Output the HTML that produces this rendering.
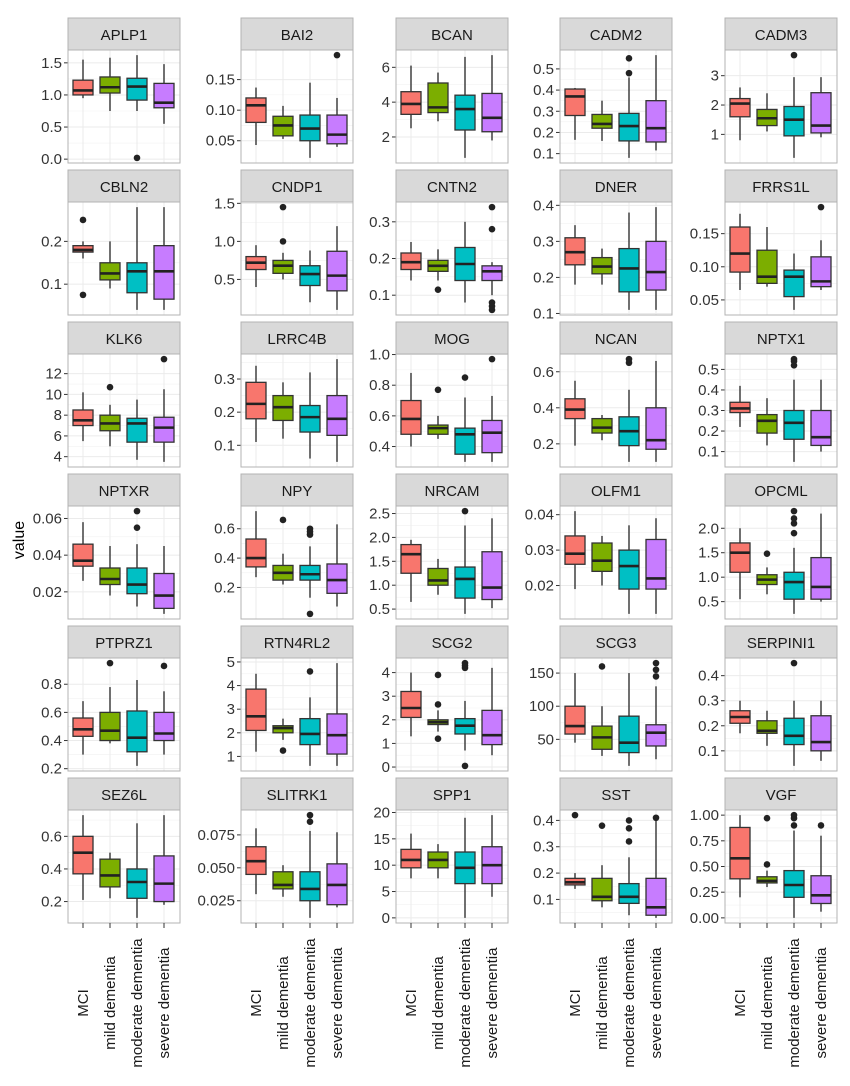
<!DOCTYPE html>
<html><head><meta charset="utf-8"><style>
html,body{margin:0;padding:0;background:#fff;}
svg{display:block;font-family:"Liberation Sans",Arial,sans-serif;}
</style></head><body>
<svg id="s" width="850" height="1086" xmlns="http://www.w3.org/2000/svg"></svg>
<script>
var P=[
["APLP1",[0,0.5,1.0,1.5],["0.0","0.5","1.0","1.5"],[[0.95,1.0,1.07,1.23,1.55,[]],[0.75,1.03,1.12,1.28,1.58,[]],[0.75,0.92,1.13,1.26,1.62,[0.02]],[0.55,0.8,0.88,1.18,1.48,[]]]],
["BAI2",[0.05,0.1,0.15],["0.05","0.10","0.15"],[[0.043,0.08,0.108,0.12,0.137,[]],[0.053,0.058,0.075,0.09,0.107,[]],[0.022,0.05,0.07,0.092,0.145,[]],[0.04,0.045,0.06,0.092,0.12,[0.19]]]],
["BCAN",[2,4,6],["2","4","6"],[[2.5,3.3,3.9,4.6,6.1,[]],[2.9,3.4,3.7,5.1,5.7,[]],[0.8,2.4,3.6,4.4,6.6,[]],[1.8,2.3,3.1,4.5,6.7,[]]]],
["CADM2",[0.1,0.2,0.3,0.4,0.5],["0.1","0.2","0.3","0.4","0.5"],[[0.165,0.28,0.37,0.405,0.41,[]],[0.16,0.22,0.24,0.285,0.35,[]],[0.08,0.16,0.23,0.29,0.46,[0.48,0.55]],[0.115,0.155,0.22,0.35,0.565,[]]]],
["CADM3",[1,2,3],["1","2","3"],[[0.8,1.6,2.05,2.22,2.6,[]],[1.1,1.3,1.55,1.85,2.4,[]],[0.2,0.95,1.5,1.95,2.95,[3.7]],[0.9,1.05,1.3,2.42,2.95,[]]]],
["CBLN2",[0.1,0.2],["0.1","0.2"],[[0.16,0.175,0.18,0.19,0.2,[0.25,0.075]],[0.09,0.11,0.125,0.15,0.2,[]],[0.04,0.08,0.13,0.15,0.28,[]],[0.04,0.065,0.13,0.19,0.28,[]]]],
["CNDP1",[0.5,1.0,1.5],["0.5","1.0","1.5"],[[0.4,0.63,0.72,0.8,0.95,[]],[0.5,0.58,0.68,0.75,0.85,[1.0,1.45]],[0.2,0.42,0.57,0.68,0.88,[]],[0.1,0.35,0.55,0.87,1.2,[]]]],
["CNTN2",[0.1,0.2,0.3],["0.1","0.2","0.3"],[[0.14,0.17,0.19,0.215,0.245,[]],[0.14,0.165,0.18,0.195,0.225,[0.115]],[0.08,0.14,0.185,0.23,0.3,[]],[0.1,0.14,0.165,0.18,0.19,[0.34,0.28,0.08,0.07,0.06]]]],
["DNER",[0.1,0.2,0.3,0.4],["0.1","0.2","0.3","0.4"],[[0.18,0.235,0.27,0.31,0.345,[]],[0.18,0.21,0.23,0.255,0.28,[]],[0.11,0.16,0.225,0.28,0.38,[]],[0.11,0.165,0.215,0.3,0.395,[]]]],
["FRRS1L",[0.05,0.1,0.15],["0.05","0.10","0.15"],[[0.065,0.092,0.12,0.16,0.18,[]],[0.07,0.075,0.085,0.125,0.16,[]],[0.035,0.055,0.085,0.095,0.12,[]],[0.065,0.07,0.078,0.115,0.14,[0.19]]]],
["KLK6",[4,6,8,10,12],["4","6","8","10","12"],[[5.5,7,7.5,8.5,10.2,[]],[5,6.5,7.2,8,9,[10.7]],[3.7,5.4,7.2,7.7,9.5,[]],[3.5,5.4,6.8,7.8,10.5,[13.4]]]],
["LRRC4B",[0.1,0.2,0.3,0.4],["0.1","0.2","0.3","0.4"],[[0.11,0.18,0.225,0.29,0.34,[]],[0.12,0.175,0.215,0.25,0.29,[]],[0.06,0.14,0.185,0.22,0.32,[]],[0.05,0.13,0.18,0.25,0.36,[]]]],
["MOG",[0.4,0.6,0.8,1.0],["0.4","0.6","0.8","1.0"],[[0.4,0.48,0.58,0.7,0.88,[]],[0.45,0.48,0.52,0.54,0.6,[0.77]],[0.3,0.35,0.48,0.52,0.72,[0.85]],[0.3,0.36,0.49,0.57,0.73,[0.97]]]],
["NCAN",[0.2,0.4,0.6],["0.2","0.4","0.6"],[[0.19,0.34,0.39,0.45,0.55,[]],[0.22,0.26,0.29,0.34,0.36,[]],[0.1,0.19,0.27,0.35,0.5,[0.65,0.67]],[0.1,0.17,0.22,0.4,0.66,[]]]],
["NPTX1",[0.1,0.2,0.3,0.4,0.5],["0.1","0.2","0.3","0.4","0.5"],[[0.22,0.29,0.31,0.34,0.42,[]],[0.13,0.19,0.25,0.28,0.36,[]],[0.05,0.16,0.24,0.3,0.45,[0.52,0.54,0.55]],[0.1,0.13,0.17,0.3,0.45,[]]]],
["NPTXR",[0.02,0.04,0.06],["0.02","0.04","0.06"],[[0.026,0.034,0.037,0.046,0.058,[]],[0.018,0.024,0.027,0.033,0.045,[]],[0.012,0.019,0.024,0.033,0.046,[0.055,0.064]],[0.008,0.011,0.018,0.03,0.045,[]]]],
["NPY",[0.2,0.4,0.6],["0.2","0.4","0.6"],[[0.27,0.34,0.4,0.53,0.72,[]],[0.22,0.25,0.3,0.35,0.43,[0.66]],[0.13,0.25,0.29,0.35,0.48,[0.56,0.58,0.6,0.02]],[0.07,0.16,0.25,0.36,0.63,[]]]],
["NRCAM",[0.5,1.0,1.5,2.0,2.5],["0.5","1.0","1.5","2.0","2.5"],[[0.65,1.25,1.65,1.85,1.95,[]],[0.8,1.0,1.1,1.35,1.55,[]],[0.4,0.73,1.13,1.38,2.25,[2.55]],[0.52,0.7,0.95,1.7,2.4,[]]]],
["OLFM1",[0.02,0.03,0.04],["0.02","0.03","0.04"],[[0.019,0.026,0.029,0.034,0.041,[]],[0.02,0.024,0.027,0.032,0.034,[]],[0.012,0.019,0.0255,0.03,0.037,[]],[0.012,0.019,0.022,0.033,0.039,[]]]],
["OPCML",[0.5,1.0,1.5,2.0],["0.5","1.0","1.5","2.0"],[[0.55,1.1,1.5,1.7,2.0,[]],[0.65,0.85,0.95,1.05,1.2,[1.48]],[0.25,0.55,0.9,1.1,1.6,[1.9,2.1,2.2,2.35]],[0.5,0.55,0.8,1.4,2.3,[]]]],
["PTPRZ1",[0.2,0.4,0.6,0.8],["0.2","0.4","0.6","0.8"],[[0.3,0.43,0.48,0.56,0.68,[]],[0.38,0.4,0.47,0.6,0.78,[0.95]],[0.22,0.32,0.42,0.61,0.83,[]],[0.3,0.4,0.45,0.6,0.75,[0.93]]]],
["RTN4RL2",[1,2,3,4,5],["1","2","3","4","5"],[[1.2,2.1,2.7,3.85,4.5,[]],[1.7,2,2.2,2.3,2.6,[1.25]],[0.6,1.5,1.95,2.6,3.5,[4.6]],[0.6,1.1,1.9,2.8,4.95,[]]]],
["SCG2",[0,1,2,3,4],["0","1","2","3","4"],[[1.3,2.1,2.5,3.2,4.0,[]],[1.5,1.8,1.9,2.0,2.4,[1.2,2.65,3.9]],[0.7,1.4,1.75,2.05,2.8,[4.2,4.3,4.4,0.05]],[0.5,0.95,1.35,2.4,4.2,[]]]],
["SCG3",[0,50,100,150],["0","50","100","150"],[[45,58,70,100,150,[]],[25,35,53,70,100,[160]],[10,30,45,85,150,[]],[20,40,60,72,130,[145,155,165]]]],
["SERPINI1",[0.1,0.2,0.3,0.4],["0.1","0.2","0.3","0.4"],[[0.17,0.21,0.235,0.26,0.3,[]],[0.12,0.17,0.18,0.22,0.26,[]],[0.04,0.125,0.16,0.23,0.3,[0.45]],[0.06,0.1,0.135,0.24,0.3,[]]]],
["SEZ6L",[0.2,0.4,0.6,0.8],["0.2","0.4","0.6","0.8"],[[0.21,0.37,0.5,0.6,0.73,[]],[0.22,0.29,0.36,0.46,0.5,[]],[0.1,0.22,0.32,0.4,0.68,[]],[0.18,0.2,0.31,0.48,0.73,[]]]],
["SLITRK1",[0.025,0.05,0.075],["0.025","0.050","0.075"],[[0.03,0.045,0.055,0.066,0.08,[]],[0.028,0.034,0.037,0.047,0.052,[]],[0.012,0.025,0.034,0.047,0.078,[0.085,0.09]],[0.02,0.022,0.037,0.053,0.077,[]]]],
["SPP1",[0,5,10,15,20],["0","5","10","15","20"],[[7.5,9.5,11,13,16,[]],[7.5,9.5,11,12.5,14,[]],[0,6.5,9.5,12.5,19,[]],[4,6.5,10,13.5,19.5,[]]]],
["SST",[0,0.1,0.2,0.3,0.4],["0.0","0.1","0.2","0.3","0.4"],[[0.14,0.155,0.165,0.18,0.2,[0.42]],[0.07,0.095,0.11,0.18,0.23,[0.38]],[0.04,0.085,0.11,0.16,0.26,[0.32,0.37,0.4]],[0.03,0.04,0.07,0.18,0.4,[0.41]]]],
["VGF",[0,0.25,0.5,0.75,1.0],["0.00","0.25","0.50","0.75","1.00"],[[0.2,0.38,0.58,0.88,1.0,[]],[0.3,0.34,0.36,0.4,0.46,[0.52,0.97]],[0,0.2,0.32,0.46,0.85,[0.9,0.97,1.0]],[0.06,0.14,0.22,0.41,0.8,[0.9]]]]
];
var cols=[68,241,396,560,725],rows=[18,170,322,474,626,778];
var colors=["#F8766D","#7CAE00","#00BFC4","#C77CFF"];
var W=112,SH=32,PH=113;
var o=[];
P.forEach(function(p,i){
 var L=cols[i%5],T=rows[Math.floor(i/5)],pt=T+SH,pb=pt+PH;
 var mn=Infinity,mx=-Infinity;
 p[3].forEach(function(b){var v=[b[0],b[4]].concat(b[5]);v.forEach(function(x){mn=Math.min(mn,x);mx=Math.max(mx,x);});});
 var r=mx-mn;mn-=r*0.05;mx+=r*0.05;
 function Y(v){return pb-(v-mn)/(mx-mn)*PH;}
 o.push('<rect x="'+L+'" y="'+T+'" width="'+W+'" height="'+SH+'" fill="#D9D9D9" stroke="#B3B3B3" stroke-width="1"/>');
 o.push('<text x="'+(L+W/2)+'" y="'+(T+22)+'" font-size="15" text-anchor="middle" fill="#1a1a1a">'+p[0]+'</text>');
 o.push('<rect x="'+L+'" y="'+pt+'" width="'+W+'" height="'+PH+'" fill="#fff"/>');
 for(var k=0;k<p[1].length-1;k++){var m=(p[1][k]+p[1][k+1])/2;var y=Y(m);o.push('<line x1="'+L+'" x2="'+(L+W)+'" y1="'+y+'" y2="'+y+'" stroke="#F2F2F2" stroke-width="0.6"/>');}
 p[1].forEach(function(t,k){var y=Y(t);if(y<pt||y>pb)return;
  o.push('<line x1="'+L+'" x2="'+(L+W)+'" y1="'+y+'" y2="'+y+'" stroke="#EBEBEB" stroke-width="1"/>');
  o.push('<line x1="'+(L-4)+'" x2="'+L+'" y1="'+y+'" y2="'+y+'" stroke="#333" stroke-width="1"/>');
  o.push('<text x="'+(L-6)+'" y="'+(y+5)+'" font-size="15" text-anchor="end" fill="#333">'+p[2][k]+'</text>');});
 var xs=[15,42,69,96];
 xs.forEach(function(dx){o.push('<line x1="'+(L+dx)+'" x2="'+(L+dx)+'" y1="'+pt+'" y2="'+pb+'" stroke="#EBEBEB" stroke-width="1"/>');});
 p[3].forEach(function(b,j){var cx=L+xs[j];
  o.push('<line x1="'+cx+'" x2="'+cx+'" y1="'+Y(b[4])+'" y2="'+Y(b[0])+'" stroke="#333" stroke-width="1.4"/>');
  o.push('<rect x="'+(cx-10)+'" y="'+Y(b[3])+'" width="20" height="'+(Y(b[1])-Y(b[3]))+'" fill="'+colors[j]+'" stroke="#333" stroke-width="1.3"/>');
  o.push('<line x1="'+(cx-10)+'" x2="'+(cx+10)+'" y1="'+Y(b[2])+'" y2="'+Y(b[2])+'" stroke="#222" stroke-width="2.6"/>');
  b[5].forEach(function(v){o.push('<circle cx="'+cx+'" cy="'+Y(v)+'" r="3.3" fill="#222"/>');});
 });
 o.push('<rect x="'+L+'" y="'+pt+'" width="'+W+'" height="'+PH+'" fill="none" stroke="#B3B3B3" stroke-width="1"/>');
 if(i>=25){var labs=["MCI","mild dementia","moderate dementia","severe dementia"];
  xs.forEach(function(dx,j){var cx=L+dx;
   o.push('<line x1="'+cx+'" x2="'+cx+'" y1="'+pb+'" y2="'+(pb+5)+'" stroke="#333" stroke-width="1"/>');
   o.push('<text transform="translate('+(cx+5)+',1003) rotate(-90)" font-size="15" text-anchor="middle" fill="#1a1a1a">'+labs[j]+'</text>');});
 }
});
o.push('<text transform="translate(24,540) rotate(-90)" font-size="16" text-anchor="middle" fill="#000">value</text>');
document.getElementById("s").innerHTML=o.join("");
</script>
</body></html>
